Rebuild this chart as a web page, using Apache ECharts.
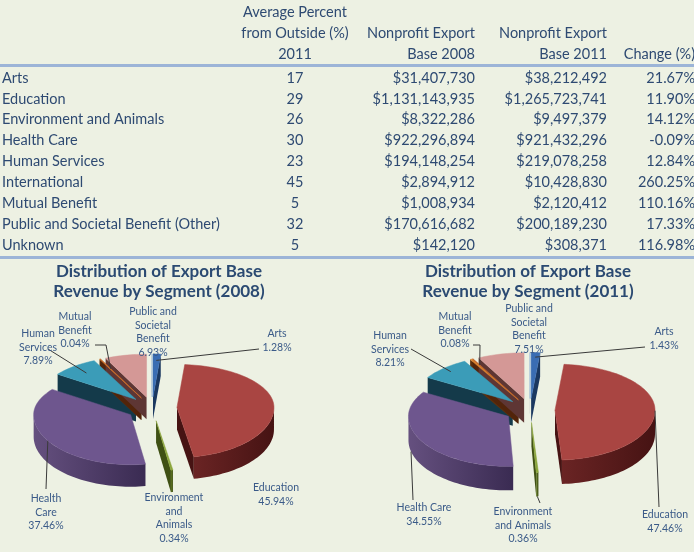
<!DOCTYPE html>
<html><head><meta charset="utf-8">
<script src="https://cdn.jsdelivr.net/npm/echarts@6/dist/echarts.min.js"></script>
<style>html,body{margin:0;padding:0;background:#edf1e3}#c{width:694px;height:552px}</style>
</head><body><div id="c"></div>
<script>
// ---------------- data ----------------
const categories = ['Arts','Education','Environment and Animals','Health Care','Human Services','International','Mutual Benefit','Public and Societal Benefit (Other)','Unknown'];
const avgPercentOutside2011 = [17,29,26,30,23,45,5,32,5];
const exportBase2008 = [31407730,1131143935,8322286,922296894,194148254,2894912,1008934,170616682,142120];
const exportBase2011 = [38212492,1265723741,9497379,921432296,219078258,10428830,2120412,200189230,308371];
const changePercent = [21.67,11.90,14.12,-0.09,12.84,260.25,110.16,17.33,116.98];
const headerAvg = ['Average Percent','from Outside (%)','2011'];
const header2008 = ['Nonprofit Export','Base 2008'];
const header2011 = ['Nonprofit Export','Base 2011'];
const headerChange = ['Change (%)'];
const pieTitles = ['Distribution of Export Base\nRevenue by Segment (2008)','Distribution of Export Base\nRevenue by Segment (2011)'];
const pieLabels2008 = {0:'Arts',1:'Education',2:'Environment\nand\nAnimals',3:'Health\nCare',4:'Human\nServices',6:'Mutual\nBenefit',7:'Public and\nSocietal\nBenefit'};
const pieLabels2011 = {0:'Arts',1:'Education',2:'Environment\nand Animals',3:'Health Care',4:'Human\nServices',6:'Mutual\nBenefit',7:'Public and\nSocietal\nBenefit'};

// ---------------- style / layout ----------------
const FONT = 'Lato';
const TXT = '#2e4a72';
const LBL = '#3a5a88';
const RULE = '#9cb4d7';
const COLORS = [
  {top:'#3a6db3', side:['#2b5189','#1b3860']},
  {top:'#a94542', side:['#6a2424','#461313']},
  {top:'#8aa53a', side:['#607624','#3f5014']},
  {top:'#6e568e', side:['#65507f','#3a2b52']},
  {top:'#3b9cb8', side:['#1f5468','#143a4a']},
  {top:'#d9822f', side:['#8a4a18','#5e300c']},
  {top:'#c5622a', side:['#7a3814','#52240a']},
  {top:'#d49896', side:['#8a5654','#5e3634']},
  {top:'#8fb0d6', side:['#5a7aa0','#3a5a80']}
];
const pieGeom = [
  {cx:152, cy:408, rx:97, ryB:43, ryF:50, depth:22, explode:25},
  {cx:530, cy:410, rx:100, ryB:46, ryF:50, depth:24, explode:25}
];
const labelLayout2008 = {
  4:{x:38, y:334, leader:[[48,349]], f:0.8},
  6:{x:75, y:317, leader:[[95,345],[106,345]], f:0.75},
  7:{x:153, y:312},
  0:{x:277, y:334, leader:[[259,349]], f:0.85},
  3:{x:46, y:499, leader:[[46,489]], f:1},
  2:{x:174, y:498},
  1:{x:276, y:488}
};
const labelLayout2011 = {
  4:{x:390, y:336, leader:[[411,349]], f:0.9},
  6:{x:455, y:317, leader:[[473,345],[480,345]], f:0.85},
  7:{x:529, y:309},
  0:{x:664, y:332, leader:[[645,347]], f:0.9},
  3:{x:424, y:508, leader:[[413,500]], ang:257, dz:1},
  2:{x:523, y:512, leader:[[540,503]], dz:1},
  1:{x:665, y:515, leader:[[659,507]], f:1}
};
const LINE_H = 13.5;

function fmtMoney(v){ return '$' + v.toLocaleString('en-US'); }

function makePieSeries(pi, values, labels, layout){
  const g = pieGeom[pi];
  const total = values.reduce((a,b)=>a+b,0);
  let acc = 0;
  const slices = values.map(v=>{ const a1 = acc/total*360; acc += v; const a2 = acc/total*360; return {a1, a2, mid:(a1+a2)/2}; });
  function pt(tip, a, f){
    const r = a*Math.PI/180, c = Math.cos(r);
    const ry = c > 0 ? g.ryB : g.ryF;
    return [tip[0]+f*g.rx*Math.sin(r), tip[1]-f*ry*c];
  }
  return {
    type:'custom', coordinateSystem:'none', silent:true, animation:false,
    data: values.map((v,i)=>[i,v]),
    renderItem(params, api){
      const i = params.dataIndex, s = slices[i], col = COLORS[i];
      const v = api.value(1);
      const tip = pt([g.cx, g.cy], s.mid, g.explode/g.rx);
      const children = [];
      const n = Math.max(2, Math.ceil((s.a2-s.a1)/2));
      const arc = [];
      for (let k=0;k<=n;k++) arc.push(pt(tip, s.a1+(s.a2-s.a1)*k/n, 1));
      const w1 = Math.max(s.a1, 90), w2 = Math.min(s.a2, 270);
      if (w2 > w1){
        const m = Math.max(2, Math.ceil((w2-w1)/2));
        const up = [], dn = [];
        for (let k=0;k<=m;k++){ const p = pt(tip, w1+(w2-w1)*k/m, 1); up.push(p); dn.push([p[0], p[1]+g.depth]); }
        children.push({type:'polygon', z2:2, shape:{points:up.concat(dn.reverse())},
          style:{fill:{type:'linear', x:0, y:0, x2:1, y2:0, colorStops:[{offset:0,color:col.side[0]},{offset:1,color:col.side[1]}]}}});
      }
      [[s.a1, s.a1-90],[s.a2, s.a2+90]].forEach(([a,na])=>{
        if (Math.cos(na*Math.PI/180) < 0){
          const r = pt(tip, a, 1);
          children.push({type:'polygon', z2:1, shape:{points:[tip, r, [r[0], r[1]+g.depth], [tip[0], tip[1]+g.depth]]}, style:{fill:col.side[1]}});
        }
      });
      children.push({type:'polygon', z2:10, shape:{points:[tip].concat(arc)}, style:{fill:col.top, stroke:col.top, lineWidth:0.5}});
      const L = layout[i];
      if (L && labels[i]){
        const txt = labels[i] + '\n' + (v/total*100).toFixed(2) + '%';
        children.push({type:'text', z2:30, style:{text:txt, x:L.x, y:L.y - LINE_H/2, align:'center', verticalAlign:'top',
          fill:LBL, font:'10.5px ' + FONT, lineHeight:LINE_H}});
        if (L.leader){
          const end = pt(tip, L.ang !== undefined ? L.ang : s.mid, L.f !== undefined ? L.f : 1);
          if (L.dz) end[1] += L.dz*g.depth;
          children.push({type:'polyline', z2:29, shape:{points:L.leader.concat([end])}, style:{stroke:'#3a3a3a', lineWidth:1, fill:null}});
        }
      }
      return {type:'group', children};
    }
  };
}

// ---------------- table graphics ----------------
const graphics = [];
function txt(t, x, y, align){
  graphics.push({type:'text', x:x, y:y, silent:true, style:{text:t, align:align, verticalAlign:'middle', fill:TXT, font:'14.5px ' + FONT}});
}
headerAvg.forEach((t,k)=>txt(t, 295, 12+21*k, 'center'));
header2008.forEach((t,k)=>txt(t, 475, 33+21*k, 'right'));
header2011.forEach((t,k)=>txt(t, 607, 33+21*k, 'right'));
headerChange.forEach((t,k)=>txt(t, 695, 54+21*k, 'right'));
graphics.push({type:'rect', silent:true, shape:{x:0, y:64, width:694, height:3}, style:{fill:RULE}});
graphics.push({type:'rect', silent:true, shape:{x:0, y:256, width:694, height:3}, style:{fill:RULE}});
categories.forEach((c,i)=>{
  const y = 78 + 20.9*i;
  txt(c, 2, y, 'left');
  txt(String(avgPercentOutside2011[i]), 295, y, 'center');
  txt(fmtMoney(exportBase2008[i]), 475, y, 'right');
  txt(fmtMoney(exportBase2011[i]), 607, y, 'right');
  txt(changePercent[i].toFixed(2) + '%', 695, y, 'right');
});
[159, 528].forEach((x,k)=>{
  graphics.push({type:'text', x:x, y:262, silent:true, style:{text:pieTitles[k], align:'center', verticalAlign:'top', fill:'#2b4a72', font:'bold 17px ' + FONT, lineHeight:20}});
});

const chart = echarts.init(document.getElementById('c'), null, {renderer:'canvas'});
chart.setOption({
  backgroundColor:'#edf1e3',
  animation:false,
  graphic: graphics,
  series:[
    makePieSeries(0, exportBase2008, pieLabels2008, labelLayout2008),
    makePieSeries(1, exportBase2011, pieLabels2011, labelLayout2011)
  ]
});
</script>
</body></html>
